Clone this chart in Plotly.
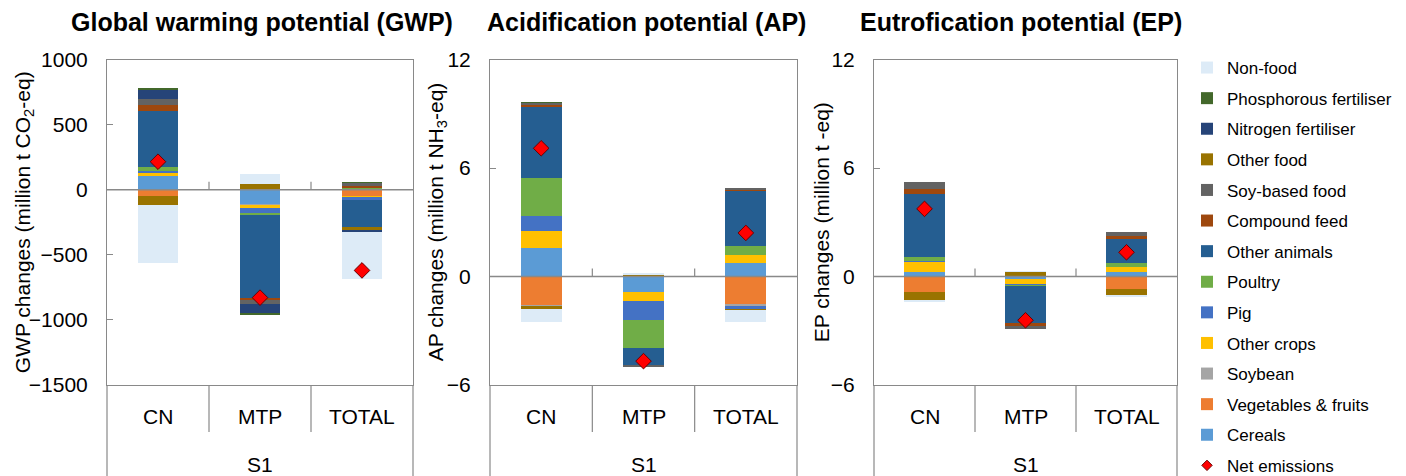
import plotly.graph_objects as go

# Stacking order of the emission sources (first = closest to the zero line)
series = ["Cereals", "Vegetables & fruits", "Soybean", "Other crops", "Pig", "Poultry",
          "Other animals", "Compound feed", "Soy-based food", "Other food",
          "Nitrogen fertiliser", "Phosphorous fertiliser", "Non-food"]
colors = ["#5B9BD5", "#ED7D31", "#A5A5A5", "#FFC000", "#4472C4", "#70AD47",
          "#255E91", "#9E480E", "#636363", "#997300", "#264478", "#43682B", "#DDEBF7"]
regions = ["CN", "MTP", "TOTAL"]
scenario = "S1"

# Global warming potential, million t CO2-eq (values per source, in series order)
gwp_cn = [110, -44, 0, 25, 12, 30, 435, 40, 52, -68, 67, 10, -448]
gwp_mtp = [-107, 0, -3, -28, -34, -18, -636, -20, -31, 45, -72, -10, 83]
gwp_total = [4, -45, -3, -4, -20, 12, -207, 18, 26, -32, -12, 3, -357]
gwp_net = [215, -829, -620]

# Acidification potential, million t NH3-eq
ap_cn = [1.62, -1.55, -0.1, 0.95, 0.81, 2.09, 3.91, 0.15, 0.1, -0.1, 0.02, 0.01, -0.76]
ap_mtp = [-0.85, 0, 0, -0.5, -1.0, -1.6, -0.92, -0.05, -0.04, 0.12, 0, 0, 0.06]
ap_total = [0.75, -1.52, -0.08, 0.48, -0.2, 0.48, 3.05, 0.1, 0.05, -0.05, 0, 0, -0.66]
ap_net = [7.09, -4.68, 2.41]

# Eutrofication potential, million t -eq
ep_cn = [0.3, -0.81, 0, 0.55, 0.02, 0.24, 3.48, 0.26, 0.4, -0.48, 0, 0, -0.05]
ep_mtp = [-0.1, 0, 0, -0.3, -0.05, -0.05, -2.07, -0.15, -0.13, 0.3, 0, 0, 0.03]
ep_total = [0.29, -0.68, 0, 0.28, 0, 0.18, 1.35, 0.17, 0.24, -0.37, 0, 0, -0.04]
ep_net = [3.74, -2.42, 1.34]

titles = ["Global warming potential (GWP)", "Acidification potential (AP)",
          "Eutrofication potential (EP)"]
ytitles = ["GWP changes (million t CO<sub>2</sub>-eq)",
           "AP changes (million t NH<sub>3</sub>-eq)",
           "EP changes (million t -eq)"]
yranges = [[-1500, 1000], [-6, 12], [-6, 12]]
ytickvals = [[-1500, -1000, -500, 0, 500, 1000], [-6, 0, 6, 12], [-6, 0, 6, 12]]

panels = [
    (gwp_cn, gwp_mtp, gwp_total, gwp_net),
    (ap_cn, ap_mtp, ap_total, ap_net),
    (ep_cn, ep_mtp, ep_total, ep_net),
]

W, H = 1406, 476
FONT = "Liberation Sans, Arial, sans-serif"
GRID = "#898989"
NET_MARKER = dict(symbol="diamond", color="#FF0000", line=dict(color="#6a0000", width=1))


def fx(p):
    return p / W


def fy(p):
    return 1 - p / H


plot_x = [(107, 413), (490, 797), (874, 1177)]
plot_top, plot_bot = 59.5, 385
title_cx = [262, 646, 1021]
ytitle_cx = [24, 437, 821]
n_items = len(series) + 1

fig = go.Figure()
shapes = []
annotations = []

# legend entry for the net emission markers (small diamond)
fig.add_trace(go.Scatter(
    x=[None], y=[None], mode="markers", name="Net emissions",
    legendgroup="net", showlegend=True, legendrank=n_items,
    marker=dict(size=8, **NET_MARKER),
))

for i, (cn, mtp, total, net) in enumerate(panels):
    sfx = "" if i == 0 else str(i + 1)
    xa, ya = "x" + sfx, "y" + sfx
    first = i == 0

    fig.add_trace(go.Scatter(
        x=[0, 1, 2], y=net, mode="markers", name="Net emissions",
        xaxis=xa, yaxis=ya, legendgroup="net", showlegend=False,
        marker=dict(size=12, **NET_MARKER),
    ))
    for k, name in enumerate(series):
        fig.add_trace(go.Bar(
            x=[0, 1, 2], y=[cn[k], mtp[k], total[k]], name=name,
            xaxis=xa, yaxis=ya, legendgroup=name, showlegend=first,
            legendrank=len(series) - k,
            marker=dict(color=colors[k], line=dict(width=0)), width=0.4,
        ))

    x0, x1 = plot_x[i]
    fig.layout["xaxis" + sfx] = dict(
        domain=[fx(x0), fx(x1)], range=[-0.5, 2.5], anchor=ya,
        showticklabels=False, ticks="", showgrid=False, zeroline=False,
        showline=True, mirror=True, linecolor=GRID, linewidth=1,
    )
    fig.layout["yaxis" + sfx] = dict(
        domain=[fy(plot_bot), fy(plot_top)], range=yranges[i], anchor=xa,
        tickvals=ytickvals[i], ticks="inside", ticklen=6, tickcolor=GRID,
        tickfont=dict(family=FONT, size=21, color="#000"),
        ticklabelstandoff=14, showgrid=False, zeroline=False,
        showline=True, mirror=True, linecolor=GRID, linewidth=1,
    )

    # horizontal axis line at zero, drawn over the bars
    shapes.append(dict(type="line", xref=xa + " domain", yref=ya, x0=0, x1=1,
                       y0=0, y1=0, line=dict(color=GRID, width=1.6), layer="above"))
    # small category tick marks on the zero line
    for b in (0.5, 1.5):
        shapes.append(dict(type="line", xref=xa, yref=ya, ysizemode="pixel", yanchor=0,
                           x0=b, x1=b, y0=0, y1=8,
                           line=dict(color=GRID, width=1.2), layer="above"))
        # separators between category labels
        shapes.append(dict(type="line", xref=xa, yref="paper", x0=b, x1=b,
                           y0=fy(plot_bot), y1=fy(432), line=dict(color=GRID, width=1.2)))
    # outer borders of the category label area
    for xp in (x0, x1):
        shapes.append(dict(type="line", xref="paper", yref="paper", x0=fx(xp), x1=fx(xp),
                           y0=fy(plot_bot), y1=0, line=dict(color=GRID, width=1.2)))

    for c, lab in enumerate(regions):
        annotations.append(dict(text=lab, xref=xa, yref="paper", x=c, y=fy(416.5),
                                xanchor="center", yanchor="middle", showarrow=False,
                                font=dict(family=FONT, size=21, color="#000")))
    annotations.append(dict(text=scenario, xref=xa, yref="paper", x=1, y=fy(464),
                            xanchor="center", yanchor="middle", showarrow=False,
                            font=dict(family=FONT, size=21, color="#000")))
    annotations.append(dict(text="<b>" + titles[i] + "</b>", xref="paper", yref="paper",
                            x=fx(title_cx[i]), y=fy(22), xanchor="center", yanchor="middle",
                            showarrow=False,
                            font=dict(family=FONT, size=25, color="#000")))
    annotations.append(dict(text=ytitles[i], xref="paper", yref="paper",
                            x=fx(ytitle_cx[i]), y=fy((plot_top + plot_bot) / 2),
                            xanchor="center", yanchor="middle", textangle=-90,
                            showarrow=False,
                            font=dict(family=FONT, size=21, color="#000")))

fig.update_layout(
    width=W, height=H, margin=dict(l=0, r=0, t=0, b=0, autoexpand=False),
    paper_bgcolor="white", plot_bgcolor="white",
    barmode="relative", bargap=0,
    shapes=shapes, annotations=annotations,
    showlegend=True,
    legend=dict(x=fx(1187), y=fy(50), xanchor="left", yanchor="top",
                traceorder="grouped", tracegroupgap=5.5,
                font=dict(family=FONT, size=17, color="#000"),
                bgcolor="rgba(0,0,0,0)", itemclick=False),
)

fig.write_html("out.html")
